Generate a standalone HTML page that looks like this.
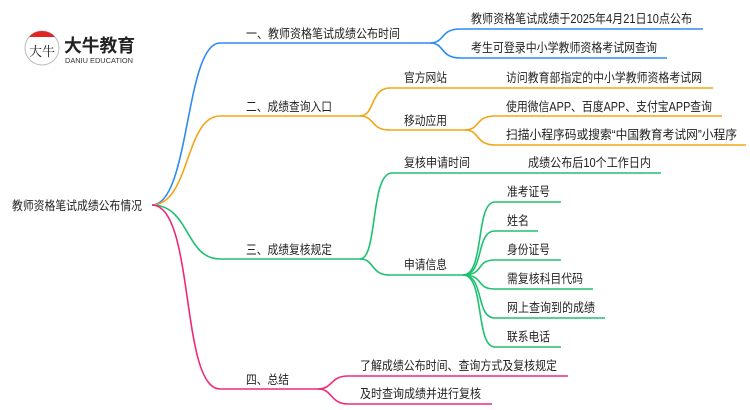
<!DOCTYPE html>
<html><head><meta charset="utf-8"><style>
html,body{margin:0;padding:0;background:#fff;}
svg{display:block;}
text{font-family:"Liberation Sans","Noto Sans CJK SC",sans-serif;font-size:12.5px;fill:#222;}
</style></head><body>
<svg width="750" height="410" viewBox="0 0 750 410" xmlns="http://www.w3.org/2000/svg">
<g fill="none" stroke-width="1.6">
<g stroke="#2e8cf0">
<path d="M152,205 C190,205 185,43 220,43 L430,43"/>
<path d="M430,43 C445,43 440,29 460,29 L703,29"/>
<path d="M430,43 C445,43 440,58 460,58 L667,58"/>
</g>
<g stroke="#f2a516">
<path d="M152,205 C190,205 185,116 220,116 L360,116"/>
<path d="M360,116 C375,116 370,88 390,88 L713,88"/>
<path d="M360,116 C375,116 370,130 390,130 L465,130"/>
<path d="M465,130 C480,130 475,116 495,116 L722,116"/>
<path d="M465,130 C480,130 475,145 495,145 L746,145"/>
</g>
<g stroke="#1fc070">
<path d="M152,205 C190,205 185,259 220,259 L360,259"/>
<path d="M360,259 C378,259 370,173 392,173 L661,173"/>
<path d="M360,259 C375,259 370,275 390,275 L463,275"/>
<path d="M463,275 C485,275 475,202 495,202 L561,202"/>
<path d="M463,275 C485,275 475,231 495,231 L538,231"/>
<path d="M463,275 C485,275 475,260 495,260 L561,260"/>
<path d="M463,275 C485,275 475,289 495,289 L593,289"/>
<path d="M463,275 C485,275 475,318 495,318 L605,318"/>
<path d="M463,275 C485,275 475,347 495,347 L561,347"/>
</g>
<g stroke="#f0287a">
<path d="M152,205 C195,205 180,389 220,389 L318,389"/>
<path d="M318,389 C333,389 330,376 348,376 L568,376"/>
<path d="M318,389 C333,389 330,404 348,404 L492,404"/>
</g>
</g>
<!-- logo -->
<circle cx="42" cy="48" r="17" fill="#fff" stroke="#bbb" stroke-width="1"/>
<path d="M29,37 A17,17 0 0 1 55,37 Z" fill="#e02424"/>
<text x="29" y="56" textLength="26" lengthAdjust="spacingAndGlyphs" style="font-size:13px;font-family:'Noto Serif CJK SC',serif">大牛</text>
<text x="64" y="52" textLength="71" lengthAdjust="spacingAndGlyphs" style="font-size:18px;font-weight:bold;fill:#222">大牛教育</text>
<text x="65" y="63" textLength="68" lengthAdjust="spacingAndGlyphs" style="font-size:7px;fill:#333">DANIU EDUCATION</text>
<!-- root -->
<text x="12" y="210" textLength="130" lengthAdjust="spacingAndGlyphs">教师资格笔试成绩公布情况</text>
<text x="246" y="38" textLength="154" lengthAdjust="spacingAndGlyphs">一、教师资格笔试成绩公布时间</text>
<text x="246" y="111" textLength="86" lengthAdjust="spacingAndGlyphs">二、成绩查询入口</text>
<text x="246" y="254" textLength="86" lengthAdjust="spacingAndGlyphs">三、成绩复核规定</text>
<text x="246" y="384" textLength="43" lengthAdjust="spacingAndGlyphs">四、总结</text>
<text x="471" y="23" textLength="221" lengthAdjust="spacingAndGlyphs">教师资格笔试成绩于2025年4月21日10点公布</text>
<text x="471" y="52" textLength="186" lengthAdjust="spacingAndGlyphs">考生可登录中小学教师资格考试网查询</text>
<text x="404" y="82" textLength="43" lengthAdjust="spacingAndGlyphs">官方网站</text>
<text x="506" y="82" textLength="196" lengthAdjust="spacingAndGlyphs">访问教育部指定的中小学教师资格考试网</text>
<text x="404" y="125" textLength="43" lengthAdjust="spacingAndGlyphs">移动应用</text>
<text x="506" y="111" textLength="206" lengthAdjust="spacingAndGlyphs">使用微信APP、百度APP、支付宝APP查询</text>
<text x="506" y="139" textLength="231" lengthAdjust="spacingAndGlyphs">扫描小程序码或搜索“中国教育考试网”小程序</text>
<text x="404" y="167" textLength="66" lengthAdjust="spacingAndGlyphs">复核申请时间</text>
<text x="528" y="167" textLength="123" lengthAdjust="spacingAndGlyphs">成绩公布后10个工作日内</text>
<text x="404" y="269" textLength="43" lengthAdjust="spacingAndGlyphs">申请信息</text>
<text x="507" y="196" textLength="43" lengthAdjust="spacingAndGlyphs">准考证号</text>
<text x="507" y="225" textLength="22" lengthAdjust="spacingAndGlyphs">姓名</text>
<text x="507" y="254" textLength="43" lengthAdjust="spacingAndGlyphs">身份证号</text>
<text x="507" y="283" textLength="76" lengthAdjust="spacingAndGlyphs">需复核科目代码</text>
<text x="507" y="312" textLength="88" lengthAdjust="spacingAndGlyphs">网上查询到的成绩</text>
<text x="507" y="341" textLength="43" lengthAdjust="spacingAndGlyphs">联系电话</text>
<text x="360" y="370" textLength="197" lengthAdjust="spacingAndGlyphs">了解成绩公布时间、查询方式及复核规定</text>
<text x="360" y="398" textLength="121" lengthAdjust="spacingAndGlyphs">及时查询成绩并进行复核</text>
</svg>
</body></html>
